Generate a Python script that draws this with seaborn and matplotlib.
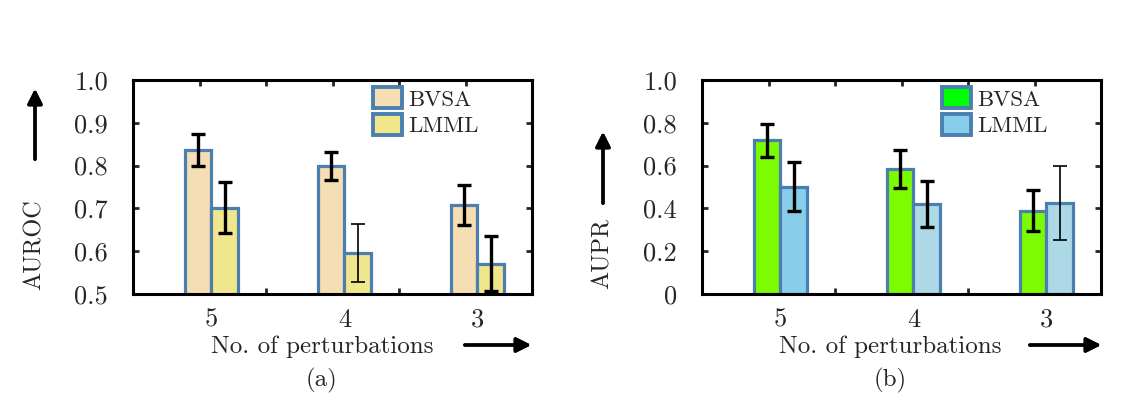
import numpy as np
import pandas as pd
import matplotlib
matplotlib.use("Agg")
import matplotlib.pyplot as plt
from matplotlib.patches import Patch
import seaborn as sns

# data
perturbations = ["5", "4", "3"]
methods = ["BVSA", "LMML"]

auroc_bvsa = [0.837, 0.799, 0.708]
auroc_bvsa_err = [0.038, 0.032, 0.047]
auroc_lmml = [0.702, 0.596, 0.571]
auroc_lmml_err = [0.059, 0.067, 0.064]

aupr_bvsa = [0.718, 0.585, 0.389]
aupr_bvsa_err = [0.077, 0.090, 0.095]
aupr_lmml = [0.502, 0.420, 0.426]
aupr_lmml_err = [0.115, 0.109, 0.172]

auroc_ticks = ["0.5", "0.6", "0.7", "0.8", "0.9", "1.0"]
aupr_ticks = ["0", "0.2", "0.4", "0.6", "0.8", "1.0"]

EDGE = "#4A7FB0"
W, H = 1123, 404

sns.set_theme(style="white")
plt.rcParams["font.family"] = ["cmr10", "DejaVu Serif"]
plt.rcParams["axes.unicode_minus"] = False


def long_frame(bvsa, lmml):
    return pd.DataFrame({
        "perturbations": perturbations * 2,
        "method": ["BVSA"] * 3 + ["LMML"] * 3,
        "value": bvsa + lmml,
    })


def draw_panel(ax, df, errs, thin, palette, lmml_faces, ylim, ticks, legend_colors):
    sns.barplot(data=df, x="perturbations", y="value", hue="method",
                order=perturbations, hue_order=methods, palette=palette,
                saturation=1, width=0.4, edgecolor=EDGE, linewidth=2.3,
                ax=ax, legend=False)
    for patch, fc in zip(ax.containers[1], lmml_faces):
        patch.set_facecolor(fc)

    # error bars at the bar centres
    for cont, err, th in zip(ax.containers, errs, thin):
        for patch, e, t in zip(cont, err, th):
            xc = patch.get_x() + patch.get_width() / 2
            lw = 1.2 if t else 2.4
            ax.errorbar(xc, patch.get_height(), yerr=e, color="black",
                        lw=lw, capsize=5, capthick=lw, zorder=4)

    xmin = -0.59
    ax.set_xlim(xmin, xmin + 3)
    ax.set_ylim(*ylim)
    yt = np.linspace(ylim[0], ylim[1], len(ticks))
    ax.set_yticks(yt)
    ax.set_yticklabels(ticks)
    ax.set_xticks(range(3))
    ax.set_xticklabels(perturbations)
    ax.set_xticks(xmin + 0.5 * np.arange(1, 6), minor=True)
    ax.set_xlabel("")
    ax.set_ylabel("")
    ax.set_axisbelow(True)
    ax.tick_params(axis="x", which="major", length=0, pad=10, labelsize=19)
    ax.tick_params(axis="x", which="minor", direction="in", length=4,
                   width=2, top=True, bottom=True)
    ax.tick_params(axis="y", direction="in", length=4, width=2,
                   left=True, right=True, pad=18, labelsize=19)
    for s in ax.spines.values():
        s.set_visible(True)
        s.set_color("black")
        s.set_linewidth(2.2)

    handles = [Patch(facecolor=c, edgecolor=EDGE, linewidth=2.8) for c in legend_colors]
    ax.legend(handles, methods, loc="upper left", bbox_to_anchor=(0.602, 0.965),
              frameon=False, fontsize=16.5, handlelength=1.25, handleheight=1.0,
              handletextpad=0.3, labelspacing=0.2, borderpad=0, borderaxespad=0)


fig = plt.figure(figsize=(W / 100, H / 100), dpi=100)
ax_a = fig.add_axes([133 / W, 1 - 294 / H, 399 / W, 214 / H])
ax_b = fig.add_axes([702 / W, 1 - 294 / H, 399 / W, 214 / H])

draw_panel(ax_a, long_frame(auroc_bvsa, auroc_lmml),
           [auroc_bvsa_err, auroc_lmml_err],
           [[False] * 3, [False, True, False]],
           ["#F5DEB3", "#F0E68C"], ["#F0E68C"] * 3,
           (0.5, 1.0), auroc_ticks, ["#F5DEB3", "#F0E68C"])

draw_panel(ax_b, long_frame(aupr_bvsa, aupr_lmml),
           [aupr_bvsa_err, aupr_lmml_err],
           [[False] * 3, [False, False, True]],
           ["#7CFC00", "#87CEEB"], ["#87CEEB", "#ADD8E6", "#ADD8E6"],
           (0.0, 1.0), aupr_ticks, ["#00FF00", "#87CEEB"])


def fx(px):
    return px / W


def fy(py):
    return 1 - py / H


arrow = dict(arrowstyle="-|>", color="black", lw=2.4, mutation_scale=22)

# y labels with up arrows
fig.text(fx(35), fy(245), "AUROC", rotation=90, ha="center", va="center", fontsize=17.5)
fig.text(fx(603), fy(254), "AUPR", rotation=90, ha="center", va="center", fontsize=17.5)
fig.add_artist(plt.annotate("", xy=(fx(35), fy(86)), xytext=(fx(35), fy(162)),
                            xycoords="figure fraction", arrowprops=arrow))
fig.add_artist(plt.annotate("", xy=(fx(603), fy(129)), xytext=(fx(603), fy(206)),
                            xycoords="figure fraction", arrowprops=arrow))

# x labels with right arrows and panel tags
for cx, tag, x0, x1 in [(322, "(a)", 462, 534), (890, "(b)", 1027, 1104)]:
    fig.text(fx(cx), fy(347), "No. of perturbations", ha="center", va="center", fontsize=18)
    fig.text(fx(cx), fy(380), tag, ha="center", va="center", fontsize=18)
    fig.add_artist(plt.annotate("", xy=(fx(x1), fy(345)), xytext=(fx(x0), fy(345)),
                                xycoords="figure fraction", arrowprops=arrow))

fig.savefig("out.png", dpi=100)
